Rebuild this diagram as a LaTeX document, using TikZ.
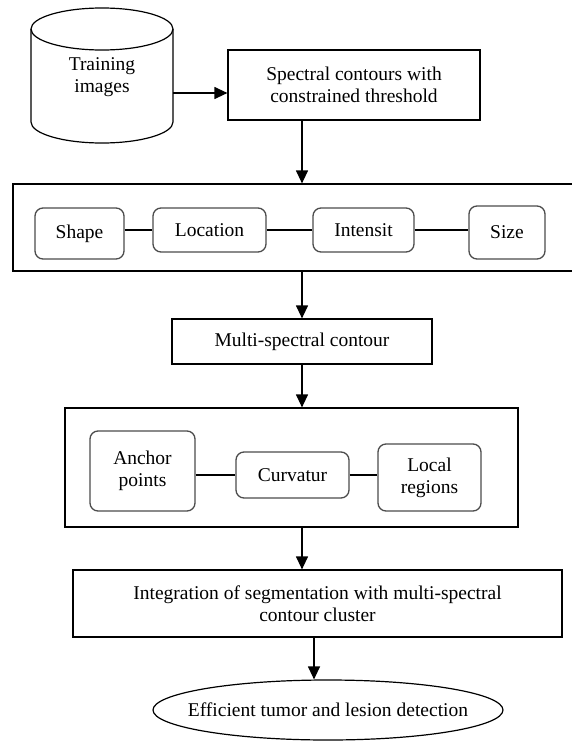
\documentclass[tikz,border=0pt]{standalone}
\usepackage{fontspec}
\setmainfont{Liberation Serif}
\usetikzlibrary{arrows.meta,shapes.geometric}

\tikzset{
    kasten/.style={draw, line width=1.2pt, align=center, inner sep=0pt},
    merkmal/.style={draw=black!70, rounded corners=8pt, line width=1.3pt, align=center, inner sep=0pt},
    pfeil/.style={line width=1.2pt, -{Triangle[length=13pt,width=12pt]}},
    linie/.style={line width=1.2pt}
}

\begin{document}
\begin{tikzpicture}[x=1pt, y=-1pt, font=\fontsize{19.5}{22}\selectfont]
    \clip (0,0) rectangle (572,742);
    \coordinate (achse) at (302,0);

    %Datenbank
    \draw[linie] (102,29) ellipse[x radius=71pt, y radius=21pt];
    \draw[linie] (31,29) -- (31,122) arc[start angle=180, end angle=360, x radius=71pt, y radius=21pt] -- (173,29);
    \node[align=center] (train) at (102,77) {Training\\images};
    \coordinate (train-out) at (173,93);

    %Konturen
    \node[kasten, minimum width=252pt, minimum height=70pt] (spec) at (354,85) {Spectral contours with\\constrained threshold};
    \draw[pfeil] (train-out) -- (train-out -| spec.west);

    %Merkmale
    \node[kasten, minimum width=562pt, minimum height=87pt] (grp1) at (294,227.5) {};
    \node[merkmal, minimum width=89pt, minimum height=51pt] (shape) at (79.5,233.5) {Shape};
    \node[merkmal, minimum width=113pt, minimum height=44pt] (loc) at (209.5,230) {Location};
    \node[merkmal, minimum width=101pt, minimum height=44pt] (int) at (363.5,230) {Intensit};
    \node[merkmal, minimum width=76pt, minimum height=53pt] (size) at (507,232.5) {Size};
    \draw[linie] (loc.west -| shape.east) -- (loc.west);
    \draw[linie] (loc.east) -- (int.west);
    \draw[linie] (int.east) -- (int.east -| size.west);
    \draw[pfeil] (spec.south -| achse) -- (grp1.north -| achse);

    %Multi-spektral
    \node[kasten, minimum width=260pt, minimum height=45pt] (multi) at (302,341.5) {Multi-spectral contour};
    \draw[pfeil] (grp1.south -| achse) -- (multi.north);

    %Kontur-Merkmale
    \node[kasten, minimum width=453pt, minimum height=119pt] (grp2) at (291.5,467.5) {};
    \node[merkmal, minimum width=105pt, minimum height=80pt] (anchor) at (142.5,471) {Anchor\\points};
    \node[merkmal, minimum width=113pt, minimum height=46pt] (curv) at (292.5,475) {Curvatur};
    \node[merkmal, minimum width=103pt, minimum height=67pt] (local) at (429.5,477.5) {Local\\regions};
    \draw[linie] (curv.west -| anchor.east) -- (curv.west);
    \draw[linie] (curv.east) -- (curv.east -| local.west);
    \draw[pfeil] (multi.south) -- (grp2.north -| achse);

    %Integration
    \node[kasten, minimum width=489pt, minimum height=67pt] (integ) at (317.5,603.5) {Integration of segmentation with multi-spectral\\contour cluster};
    \draw[pfeil] (grp2.south -| achse) -- (integ.north -| achse);

    %Ergebnis
    \node[ellipse, draw, line width=1.2pt, minimum width=350pt, minimum height=60pt, inner xsep=-30pt, inner ysep=0pt] (result) at (328,710) {Efficient tumor and lesion detection};
    \draw[pfeil] (integ.south -| 314,0) -- (result.north -| 314,0);
\end{tikzpicture}
\end{document}
